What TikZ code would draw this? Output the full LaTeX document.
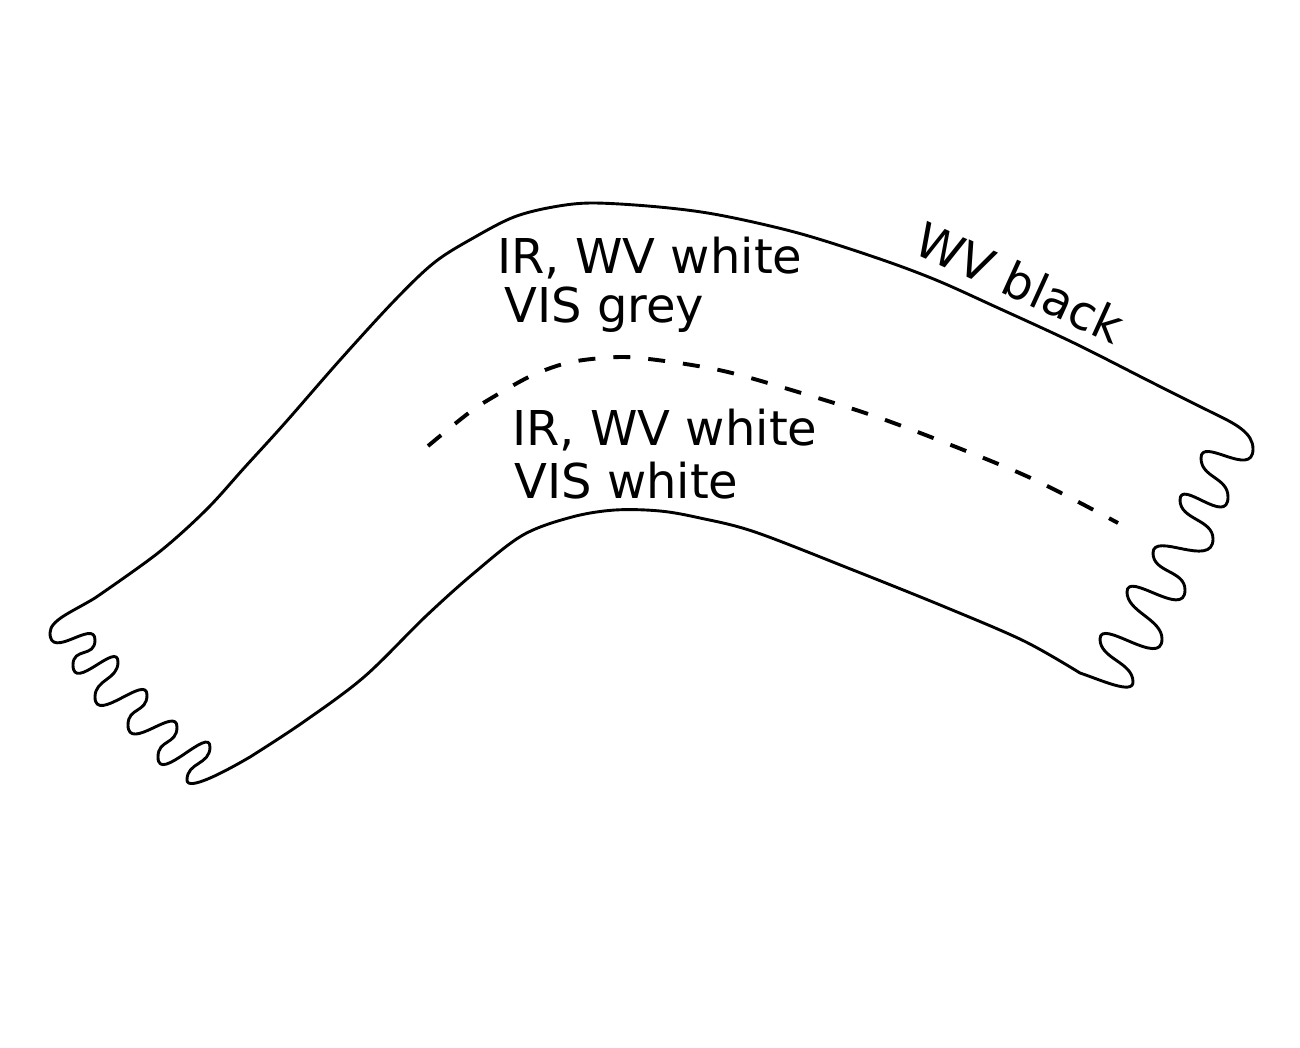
\documentclass[tikz,border=0pt]{standalone}
\usepackage{fontspec}
\setmainfont{DejaVu Sans}
\begin{document}
\begin{tikzpicture}[x=0.5pt,y=-0.5pt,
  outline/.style={line width=1.45pt, line join=round},
  divider/.style={line width=1.95pt, dash pattern=on 8.5pt off 9pt},
  lbl/.style={inner sep=0pt, anchor=base west, font=\fontsize{24pt}{28pt}\selectfont}]
\fill[white] (0,0) rectangle (1300,1048);
\useasboundingbox (0,0) rectangle (1300,1048);

% peaks of the torn right end
\coordinate (ra) at (1253,449);
\coordinate (la) at (1201,458);
\coordinate (rb) at (1228,497);
\coordinate (lb) at (1180,500);
\coordinate (rc) at (1213,539);
\coordinate (lc) at (1153,553);
\coordinate (rd) at (1185,590);
\coordinate (ld) at (1127,592);
\coordinate (re) at (1162,639);
\coordinate (le) at (1100,639);
\coordinate (rf) at (1133,682);
% peaks of the torn left end
\coordinate (L0) at (50,633);
\coordinate (R1) at (95,640);
\coordinate (L1) at (73,665);
\coordinate (R2) at (118,662);
\coordinate (L2) at (95,697);
\coordinate (R3) at (147,695);
\coordinate (L3) at (128,725);
\coordinate (R4) at (177,727);
\coordinate (L4) at (158,757);
\coordinate (R5) at (210,747);
\coordinate (L5) at (187,780);

\draw[outline]
  plot[smooth, tension=0.55] coordinates {(95,598) (158,553) (206,510) (245,467) (285,423) (340,360) (395,300) (435,262) (475,237) (514,217) (553,207) (593,203) (659,207) (719,215) (798,233) (877,258) (936,280) (996,307) (1074,343) (1153,383) (1213,413)}
  .. controls (1236,424) and (1253,433) .. (ra)
  .. controls +(0,30) and +(0,-22) .. (la)
  .. controls +(0,20) and +(0,-20) .. (rb)
  .. controls +(0,30) and +(0,-22) .. (lb)
  .. controls +(0,20) and +(0,-20) .. (rc)
  .. controls +(0,30) and +(0,-22) .. (lc)
  .. controls +(0,20) and +(0,-20) .. (rd)
  .. controls +(0,30) and +(0,-22) .. (ld)
  .. controls +(0,20) and +(0,-20) .. (re)
  .. controls +(0,30) and +(0,-22) .. (le)
  .. controls +(0,20) and +(0,-20) .. (rf)
  .. controls +(0,13) and (1101,680) .. (1080,673)
  -- plot[smooth, tension=0.55] coordinates {(1080,673) (1024,641) (945,607) (853,570) (755,532) (700,518) (660,511) (615,510) (572,517) (523,535) (474,573) (425,617) (364,677) (302,723) (250,757)}
  .. controls (226,771) and +(0,12) .. (L5)
  .. controls +(0,-18) and +(0,18) .. (R5)
  .. controls +(0,-22) and +(0,28) .. (L4)
  .. controls +(0,-18) and +(0,18) .. (R4)
  .. controls +(0,-22) and +(0,28) .. (L3)
  .. controls +(0,-18) and +(0,18) .. (R3)
  .. controls +(0,-22) and +(0,28) .. (L2)
  .. controls +(0,-18) and +(0,18) .. (R2)
  .. controls +(0,-22) and +(0,28) .. (L1)
  .. controls +(0,-18) and +(0,18) .. (R1)
  .. controls +(0,-22) and +(0,28) .. (L0)
  .. controls +(0,-13) and (72,612) .. (95,598)
  -- cycle;

\draw[divider] plot[smooth, tension=0.55] coordinates {(428,446) (470,412) (500,393) (533,375) (567,363) (603,358) (640,358) (719,370) (798,392) (877,417) (956,447) (1035,480) (1118,523)};

\node[lbl] (t1) at (497,273) {IR, WV white};
\node[lbl] (t2) at (504,322) {VIS grey};
\node[lbl] (t3) at (512,445) {IR, WV white};
\node[lbl] (t4) at (514,498) {VIS white};
\node[lbl, rotate=-24.5] (t5) at (911,252) {WV black};
\end{tikzpicture}
\end{document}
